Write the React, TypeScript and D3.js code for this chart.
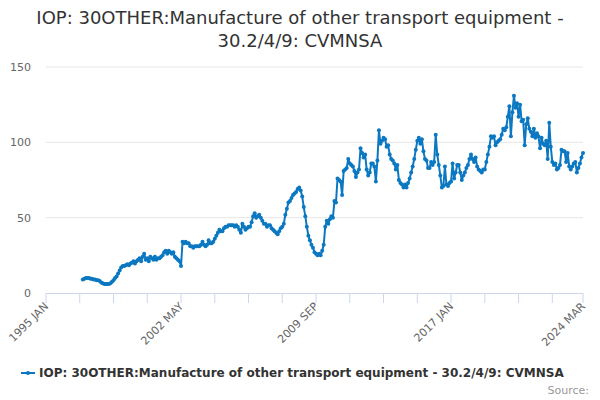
import * as d3 from "d3";

// monthly values, Jan..Dec per year (1997 starts the series)
const y1997 = [9, 9.5, 10, 10, 10, 9.5, 9.5, 9, 9, 8.5, 8.5, 8];
const y1998 = [7, 6.5, 6, 6, 6, 6, 6.5, 7.5, 8.5, 10, 11, 13];
const y1999 = [15, 17, 18, 18, 18.5, 19, 18.5, 19.5, 20, 21, 19.5, 21];
const y2000 = [22, 23, 21, 24, 26, 22, 23, 21, 24, 23, 22, 24];
const y2001 = [22, 23, 23, 24, 25, 27, 28, 26, 28, 27, 26, 27];
const y2002 = [24, 23, 22, 21, 18, 34, 33, 34, 33, 33, 31, 31];
const y2003 = [30, 31, 31, 31, 31, 32, 34, 32, 31, 32, 35, 33];
const y2004 = [33, 34, 36, 38, 40, 42, 41, 41, 43, 44, 44, 45];
const y2005 = [45, 45, 45, 44, 45, 44, 42, 40, 46, 44, 42, 43];
const y2006 = [44, 44, 47, 51, 53, 50, 51, 52, 50, 48, 46, 46];
const y2007 = [44, 45, 45, 43, 42, 41, 40, 39, 41, 43, 44, 46];
const y2008 = [52, 56, 60, 61, 63, 65, 66, 67, 69, 70, 68, 64];
const y2009 = [57, 51, 44, 38, 35, 32, 30, 27, 26, 25, 26, 25];
const y2010 = [28, 32, 44, 48, 46, 49, 51, 50, 61, 60, 76, 75];
const y2011 = [74, 65, 81, 82, 83, 89, 86, 85, 84, 81, 77, 80];
const y2012 = [82, 96, 93, 90, 92, 82, 78, 80, 86, 86, 84, 74];
const y2013 = [88, 108, 99, 101, 103, 102, 97, 98, 92, 89, 88, 86];
const y2014 = [82, 85, 75, 73, 72, 70, 72, 70, 73, 76, 80, 84];
const y2015 = [89, 95, 101, 103, 99, 102, 94, 89, 88, 83, 83, 87];
const y2016 = [85, 87, 105, 92, 85, 78, 70, 71, 84, 72, 71, 73];
const y2017 = [74, 86, 76, 80, 85, 85, 80, 75, 78, 80, 83, 85];
const y2018 = [89, 92, 89, 87, 90, 84, 82, 81, 80, 82, 82, 87];
const y2019 = [92, 97, 104, 103, 104, 98, 100, 101, 102, 105, 109, 108];
const y2020 = [110, 117, 124, 104, 120, 131, 123, 126, 117, 125, 114, 115];
const y2021 = [98, 112, 116, 109, 107, 104, 109, 103, 106, 104, 96, 103];
const y2022 = [99, 98, 101, 89, 113, 97, 87, 85, 86, 82, 83, 85];
const y2023 = [95, 94, 94, 87, 93, 84, 82, 84, 86, 87, 80, 83];
const y2024 = [86, 90, 93];

const years = [
  y1997, y1998, y1999, y2000, y2001, y2002, y2003, y2004, y2005, y2006,
  y2007, y2008, y2009, y2010, y2011, y2012, y2013, y2014, y2015, y2016,
  y2017, y2018, y2019, y2020, y2021, y2022, y2023, y2024,
];
const firstYear = 1997;
const axisStartYear = 1995;
const lastIndex = (2024 - axisStartYear) * 12 + 2; // 2024 MAR

const tickLabels = ["1995 JAN", "2002 MAY", "2009 SEP", "2017 JAN", "2024 MAR"];
const tickLabelIdx = [0, 88, 176, 264, 350];
const yTicks = [0, 50, 100, 150];

const title1 = "IOP: 30OTHER:Manufacture of other transport equipment -";
const title2 = "30.2/4/9: CVMNSA";
const seriesName =
  "IOP: 30OTHER:Manufacture of other transport equipment - 30.2/4/9: CVMNSA";

type Pt = { i: number; v: number };

const points: Pt[] = years.flatMap((vals, yi) =>
  vals.map((v, m) => ({ i: (firstYear - axisStartYear + yi) * 12 + m, v }))
);

const W = 600;
const H = 400;
const margin = { top: 67, right: 17, bottom: 107, left: 46 };
const lineColor = "#0b78c1";
const font = "DejaVu Sans, sans-serif";

export default function App() {
  const x = d3
    .scaleLinear()
    .domain([0, lastIndex])
    .range([margin.left, W - margin.right]);
  const y = d3
    .scaleLinear()
    .domain([0, 150])
    .range([H - margin.bottom, margin.top]);

  const line = d3
    .line<Pt>()
    .x((d) => x(d.i))
    .y((d) => y(d.v));

  const minorTicks = d3.range(0, lastIndex, 22).concat([lastIndex]);
  const baseY = y(0);

  return (
    <svg
      width={W}
      height={H}
      style={{ position: "absolute", left: 0, top: 0, fontFamily: font }}
    >
      <rect width={W} height={H} fill="#fff" />
      <text x={W / 2} y={24} textAnchor="middle" fontSize={18} fill="#333">
        {title1}
      </text>
      <text x={W / 2} y={47} textAnchor="middle" fontSize={18} fill="#333">
        {title2}
      </text>

      {yTicks.map((t) => (
        <g key={t}>
          {t > 0 && (
            <line
              x1={margin.left}
              x2={W - margin.right}
              y1={y(t)}
              y2={y(t)}
              stroke="#e6e6e6"
            />
          )}
          <text
            x={31}
            y={y(t) + 4}
            textAnchor="end"
            fontSize={11}
            fill="#666"
          >
            {t}
          </text>
        </g>
      ))}

      <line
        x1={margin.left}
        x2={W - margin.right}
        y1={baseY + 0.5}
        y2={baseY + 0.5}
        stroke="#ccd6eb"
      />
      {minorTicks.map((t) => (
        <line
          key={t}
          x1={x(t)}
          x2={x(t)}
          y1={baseY}
          y2={baseY + 10}
          stroke="#ccd6eb"
        />
      ))}
      {tickLabels.map((lab, k) => {
        const tx = x(tickLabelIdx[k]) + 3;
        const ty = baseY + 14;
        return (
          <text
            key={lab}
            x={tx}
            y={ty}
            textAnchor="end"
            fontSize={11}
            fill="#666"
            transform={`rotate(-45 ${tx} ${ty})`}
          >
            {lab}
          </text>
        );
      })}

      <path
        d={line(points) ?? ""}
        fill="none"
        stroke={lineColor}
        strokeWidth={2}
        strokeLinejoin="round"
      />
      {points.map((p) => (
        <circle key={p.i} cx={x(p.i)} cy={y(p.v)} r={2} fill={lineColor} />
      ))}

      <line x1={21} x2={35} y1={373} y2={373} stroke={lineColor} strokeWidth={2} />
      <circle cx={28} cy={373} r={2} fill={lineColor} />
      <text x={39} y={377} fontSize={12} fontWeight="bold" fill="#333">
        {seriesName}
      </text>
      <text x={589} y={394} textAnchor="end" fontSize={11} fill="#999">
        Source:
      </text>
    </svg>
  );
}
